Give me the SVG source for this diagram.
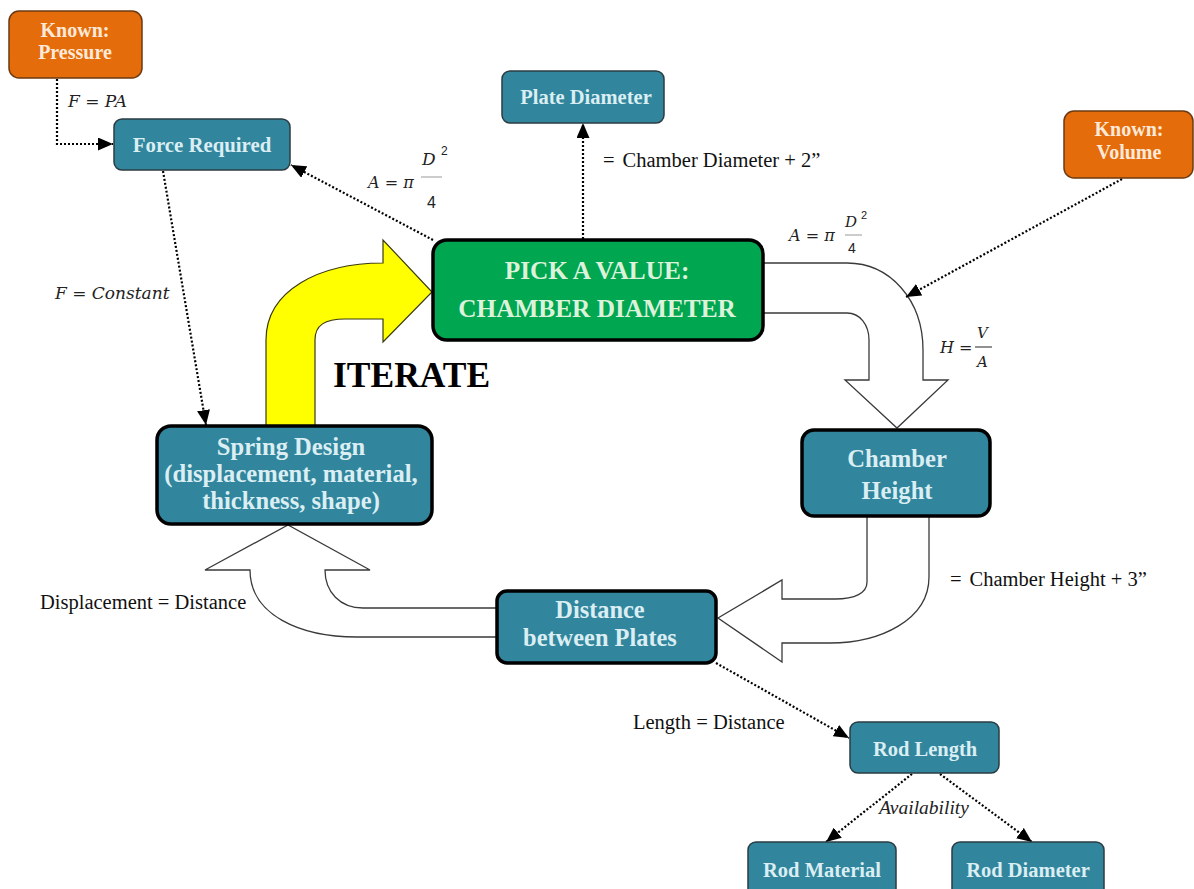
<svg xmlns="http://www.w3.org/2000/svg" width="1194" height="889" viewBox="0 0 1194 889">
<style>
.box{fill:#31859C;stroke:#2a3c42;stroke-width:1.5}
.big{stroke:#000;stroke-width:3.5}
.org{fill:#E46C0A;stroke:#6b3a12;stroke-width:1.5}
.t{font-family:"Liberation Serif","Times New Roman",serif;font-weight:bold;text-anchor:middle;fill:#DAEEF3}
.to{fill:#FDE9D9}
.tg{fill:#DDF2DA}
.lbl{font-family:"Liberation Serif","Times New Roman",serif;font-size:20.5px;fill:#111}
.m{font-family:"DejaVu Serif",serif;font-style:italic;fill:#222}
.n{font-family:"Liberation Sans",Arial,sans-serif;fill:#222}
.dot{fill:none;stroke:#000;stroke-width:2.2;stroke-dasharray:2 2;marker-end:url(#ah)}
.blk{fill:#fff;stroke:#3a3a3a;stroke-width:1.3}
.bar{stroke:#999;stroke-width:1}
</style>
<defs>
<marker id="ah" markerUnits="userSpaceOnUse" markerWidth="16" markerHeight="13" refX="15" refY="6.5" orient="auto">
<path d="M0,0 L15,6.5 L0,13 z" fill="#000"/>
</marker>
</defs>
<rect width="1194" height="889" fill="#fff"/>

<g id="block-arrows">
<path class="blk" d="M763 263 H847 C890 263 923 300 923 350 V380 H948 L897 428 L845 380 H869 V340 C869 325 860 313 847 313 H763"/>
<path class="blk" d="M929 516 V577 C929 620 880 643 830 643 H782 V662 L718 618 L782 580 V599 H835 C855 599 867 593 867 582 V516"/>
<path class="blk" d="M497 637 H357 C300 637 250 615 250 570 H205 L288 525 L370 570 H325 C325 592 340 608 363 608 H497"/>
<path d="M266 426 V340 C266 290 320 263 383 263 V240 L432 292 L383 342 V319 H345 C325 319 315 325 315 340 V426 Z" fill="#FFFF00" stroke="#3a3a10" stroke-width="1.2"/>
</g>

<g id="connectors">
<path class="dot" d="M57 79 V144 H113"/>
<path class="dot" d="M433 240 L291 165"/>
<path class="dot" d="M583 239 V123"/>
<path class="dot" d="M1122 179 L906 297"/>
<path class="dot" d="M163 171 L206 425"/>
<path class="dot" d="M716 663 L849 738"/>
<path class="dot" d="M912 774 L826 842"/>
<path class="dot" d="M940 774 L1032 842"/>
</g>

<g id="labels">
<text class="m" x="68" y="107" font-size="17">F <tspan font-style="normal">=</tspan> PA</text>
<text class="m" x="55" y="299" font-size="17">F <tspan font-style="normal">=</tspan> Constant</text>
<text class="m" x="368" y="188" font-size="16">A <tspan font-style="normal">=</tspan> π</text>
<text class="m" x="422" y="165" font-size="17">D</text>
<text class="n" x="441" y="155" font-size="12">2</text>
<line class="bar" x1="421" y1="177" x2="442" y2="177"/>
<text class="n" x="427" y="208" font-size="16">4</text>
<text class="lbl" x="603" y="167">=<tspan dx="8">Chamber Diameter + 2”</tspan></text>
<text class="m" x="789" y="241" font-size="16">A <tspan font-style="normal">=</tspan> π</text>
<text class="m" x="845" y="227" font-size="15">D</text>
<text class="n" x="861" y="219" font-size="11">2</text>
<line class="bar" x1="845" y1="235" x2="862" y2="235"/>
<text class="n" x="848" y="253" font-size="14">4</text>
<text class="m" x="940" y="353" font-size="16">H <tspan font-style="normal">=</tspan></text>
<text class="m" x="977" y="338" font-size="15">V</text>
<line x1="975" y1="347" x2="992" y2="347" stroke="#222" stroke-width="1"/>
<text class="m" x="977" y="367" font-size="15">A</text>
<text x="333" y="387" font-family="Liberation Serif,Times New Roman,serif" font-weight="bold" font-size="35.5" fill="#000">ITERATE</text>
<text class="lbl" x="40" y="609">Displacement = Distance</text>
<text class="lbl" x="950" y="586">=<tspan dx="8">Chamber Height + 3”</tspan></text>
<text class="lbl" x="633" y="729">Length = Distance</text>
<text x="879" y="814" font-family="Liberation Serif,Times New Roman,serif" font-style="italic" font-size="19.5" fill="#222">Availability</text>
</g>

<g id="known-pressure">
<rect class="org" x="9" y="11" width="133" height="67" rx="10"/>
<text class="t to" x="75" y="37" font-size="20">Known:</text>
<text class="t to" x="75" y="59" font-size="20">Pressure</text>
</g>
<g id="force-required">
<rect class="box" x="114" y="119" width="176" height="51" rx="8"/>
<text class="t" x="202" y="152" font-size="20.8">Force Required</text>
</g>
<g id="plate-diameter">
<rect class="box" x="502" y="71" width="162" height="52" rx="8"/>
<text class="t" x="586" y="104" font-size="20.5">Plate Diameter</text>
</g>
<g id="known-volume">
<rect class="org" x="1064" y="111" width="129" height="67" rx="10"/>
<text class="t to" x="1129" y="136" font-size="20">Known:</text>
<text class="t to" x="1129" y="159" font-size="20">Volume</text>
</g>
<g id="pick-value">
<rect class="big" x="433" y="240" width="330" height="100" rx="14" fill="#00A650"/>
<text class="t tg" x="597" y="279" font-size="25.3">PICK A VALUE:</text>
<text class="t tg" x="597" y="317" font-size="25.3">CHAMBER DIAMETER</text>
</g>
<g id="spring-design">
<rect class="box big" x="157" y="426" width="275" height="98" rx="14"/>
<text class="t" x="291" y="455" font-size="24.6">Spring Design</text>
<text class="t" x="291" y="482" font-size="24.6">(displacement, material,</text>
<text class="t" x="291" y="509" font-size="24.6">thickness, shape)</text>
</g>
<g id="chamber-height">
<rect class="box big" x="802" y="430" width="188" height="86" rx="12"/>
<text class="t" x="897" y="467" font-size="24.6">Chamber</text>
<text class="t" x="897" y="499" font-size="24.6">Height</text>
</g>
<g id="distance-plates">
<rect class="box big" x="497" y="591" width="219" height="72" rx="10"/>
<text class="t" x="600" y="618" font-size="24.4">Distance</text>
<text class="t" x="600" y="646" font-size="24.4">between Plates</text>
</g>
<g id="rod-length">
<rect class="box" x="850" y="722" width="149" height="51" rx="8"/>
<text class="t" x="925" y="756" font-size="20.5">Rod Length</text>
</g>
<g id="rod-material">
<rect class="box" x="748" y="842" width="148" height="56" rx="8"/>
<text class="t" x="822" y="877" font-size="20.5">Rod Material</text>
</g>
<g id="rod-diameter">
<rect class="box" x="952" y="842" width="152" height="56" rx="8"/>
<text class="t" x="1028" y="877" font-size="20.5">Rod Diameter</text>
</g>
</svg>
